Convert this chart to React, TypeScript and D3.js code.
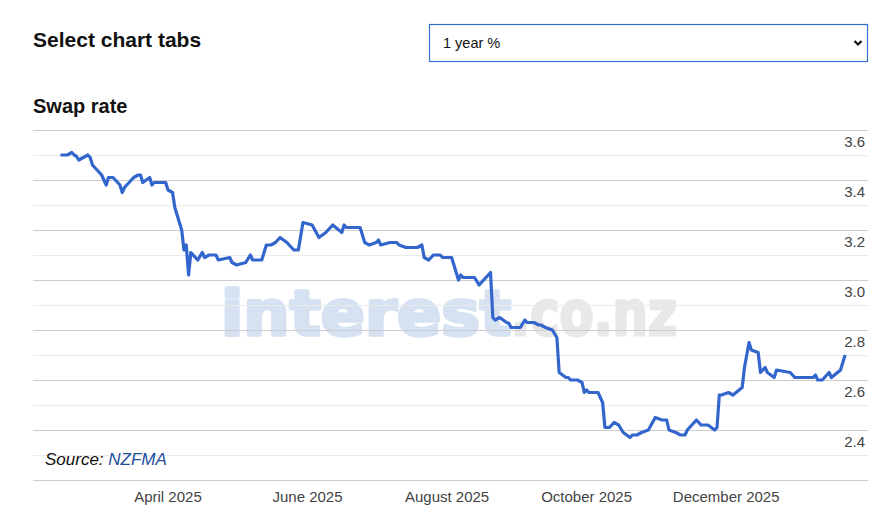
import React, { useEffect, useRef } from 'react';
import * as d3 from 'd3';

// 1 year swap rate
const dates: string[] = [
  '2025-02-13', '2025-02-14', '2025-02-16', '2025-02-18', '2025-02-19', '2025-02-20', '2025-02-21',
  '2025-02-23', '2025-02-25', '2025-02-26', '2025-02-27', '2025-03-01', '2025-03-03', '2025-03-04',
  '2025-03-05', '2025-03-06', '2025-03-08', '2025-03-10', '2025-03-11', '2025-03-12', '2025-03-13',
  '2025-03-15', '2025-03-17', '2025-03-19', '2025-03-20', '2025-03-21', '2025-03-24', '2025-03-25',
  '2025-03-26', '2025-03-31', '2025-04-01', '2025-04-03', '2025-04-04', '2025-04-07', '2025-04-08',
  '2025-04-09', '2025-04-10', '2025-04-11', '2025-04-14', '2025-04-16', '2025-04-17', '2025-04-19',
  '2025-04-22', '2025-04-23', '2025-04-28', '2025-04-29', '2025-05-01', '2025-05-05', '2025-05-07',
  '2025-05-08', '2025-05-12', '2025-05-14', '2025-05-16', '2025-05-18', '2025-05-20', '2025-05-23',
  '2025-05-26', '2025-05-28', '2025-05-30', '2025-06-03', '2025-06-06', '2025-06-09', '2025-06-11',
  '2025-06-12', '2025-06-16', '2025-06-17', '2025-06-18', '2025-06-24', '2025-06-26', '2025-06-28',
  '2025-07-01', '2025-07-02', '2025-07-03', '2025-07-07', '2025-07-10', '2025-07-11', '2025-07-14',
  '2025-07-19', '2025-07-21', '2025-07-22', '2025-07-24', '2025-07-26', '2025-07-29', '2025-07-30',
  '2025-08-03', '2025-08-05', '2025-08-06', '2025-08-07', '2025-08-08', '2025-08-13', '2025-08-15',
  '2025-08-17', '2025-08-20', '2025-08-21', '2025-08-22', '2025-08-24', '2025-08-27', '2025-08-28',
  '2025-08-29', '2025-09-02', '2025-09-04', '2025-09-05', '2025-09-08', '2025-09-10', '2025-09-11',
  '2025-09-13', '2025-09-16', '2025-09-18', '2025-09-19', '2025-09-22', '2025-09-23', '2025-09-24',
  '2025-09-27', '2025-09-29', '2025-09-30', '2025-10-01', '2025-10-02', '2025-10-06', '2025-10-08',
  '2025-10-09', '2025-10-11', '2025-10-13', '2025-10-15', '2025-10-17', '2025-10-20', '2025-10-21',
  '2025-10-23', '2025-10-25', '2025-10-28', '2025-10-31', '2025-11-03', '2025-11-05', '2025-11-06',
  '2025-11-09', '2025-11-11', '2025-11-13', '2025-11-14', '2025-11-18', '2025-11-20', '2025-11-23',
  '2025-11-26', '2025-11-27', '2025-11-28', '2025-11-29', '2025-12-02', '2025-12-04', '2025-12-08',
  '2025-12-09', '2025-12-11', '2025-12-12', '2025-12-15', '2025-12-16', '2025-12-18', '2025-12-19',
  '2025-12-22', '2025-12-23', '2025-12-29', '2025-12-31', '2026-01-08', '2026-01-09', '2026-01-10',
  '2026-01-12', '2026-01-15', '2026-01-16', '2026-01-20', '2026-01-21', '2026-01-22',
];

const rates: number[] = [
  3.60, 3.60, 3.60, 3.61, 3.60, 3.595, 3.58,
  3.59, 3.60, 3.59, 3.56, 3.54, 3.52, 3.50,
  3.48, 3.51, 3.51, 3.49, 3.48, 3.45, 3.47,
  3.49, 3.51, 3.52, 3.52, 3.49, 3.51, 3.48,
  3.49, 3.49, 3.46, 3.45, 3.39, 3.30, 3.22,
  3.24, 3.12, 3.21, 3.18, 3.21, 3.19, 3.20,
  3.20, 3.18, 3.19, 3.17, 3.16, 3.17, 3.20,
  3.18, 3.18, 3.24, 3.24, 3.25, 3.27, 3.25,
  3.22, 3.22, 3.33, 3.32, 3.27, 3.29, 3.31,
  3.32, 3.29, 3.32, 3.31, 3.31, 3.25, 3.24,
  3.25, 3.26, 3.24, 3.25, 3.25, 3.24, 3.23,
  3.23, 3.24, 3.19, 3.18, 3.20, 3.20, 3.19,
  3.19, 3.13, 3.10, 3.12, 3.11, 3.11, 3.08,
  3.10, 3.13, 2.95, 2.94, 2.95, 2.93, 2.927,
  2.91, 2.91, 2.94, 2.93, 2.93, 2.92, 2.92,
  2.91, 2.90, 2.87, 2.73, 2.71, 2.71, 2.70,
  2.70, 2.69, 2.65, 2.66, 2.65, 2.65, 2.61,
  2.51, 2.51, 2.53, 2.52, 2.49, 2.47, 2.48,
  2.48, 2.49, 2.50, 2.55, 2.54, 2.54, 2.50,
  2.49, 2.48, 2.48, 2.50, 2.54, 2.52, 2.52,
  2.50, 2.51, 2.64, 2.64, 2.65, 2.64, 2.67,
  2.75, 2.85, 2.82, 2.81, 2.73, 2.75, 2.73,
  2.71, 2.74, 2.73, 2.71, 2.71, 2.72, 2.70,
  2.70, 2.73, 2.71, 2.74, 2.77, 2.80,
];

const yTickLabels: number[] = [2.4, 2.6, 2.8, 3.0, 3.2, 3.4, 3.6];
const xTickDates: string[] = ['2025-04-01', '2025-06-01', '2025-08-01', '2025-10-01', '2025-12-01'];
const xDomain: string[] = ['2025-02-01', '2026-02-01'];
const yDomain: number[] = [2.3, 3.7];

const W = 878;
const H = 516;
const FONT = 'Arial, "Liberation Sans", sans-serif';

const App: React.FC = () => {
  const svgRef = useRef<SVGSVGElement>(null);

  useEffect(() => {
    document.body.style.margin = '0';
    if (!svgRef.current) return;
    const svg = d3.select(svgRef.current);
    svg.selectAll('*').remove();

    const parse = d3.timeParse('%Y-%m-%d');
    const left = 33;
    const right = 868;
    const top = 130;
    const bottom = 480;

    const x = d3.scaleTime()
      .domain(xDomain.map(d => parse(d) as Date))
      .range([left, right]);
    const y = d3.scaleLinear().domain(yDomain).range([bottom, top]);

    // Header
    svg.append('text')
      .attr('x', 33).attr('y', 47)
      .style('font-family', FONT).style('font-weight', 700).style('font-size', '21px')
      .attr('fill', '#111')
      .text('Select chart tabs');

    svg.append('rect')
      .attr('x', 429.5).attr('y', 24.5).attr('width', 438).attr('height', 37)
      .attr('fill', '#fff').attr('stroke', '#3572cc').attr('stroke-width', 1.2);
    svg.append('text')
      .attr('x', 443).attr('y', 48)
      .style('font-family', FONT).style('font-size', '14.5px')
      .attr('fill', '#111')
      .text('1 year %');
    svg.append('path')
      .attr('d', 'M854.5,41 L858,44.5 L861.5,41')
      .attr('fill', 'none').attr('stroke', '#111').attr('stroke-width', 2.2);

    svg.append('text')
      .attr('x', 33).attr('y', 113)
      .style('font-family', FONT).style('font-weight', 700).style('font-size', '20px')
      .attr('fill', '#111')
      .text('Swap rate');

    // Watermark, fattened with a matching stroke
    const wm = svg.append('text')
      .attr('x', 221).attr('y', 335)
      .style('font-family', '"DejaVu Sans", Verdana, sans-serif').style('font-weight', 700)
      .style('font-size', '62px')
      .attr('stroke-linejoin', 'round');
    wm.append('tspan')
      .attr('fill', '#d6e1f2').attr('stroke', '#d6e1f2').attr('stroke-width', 3.5)
      .attr('textLength', 290).attr('lengthAdjust', 'spacingAndGlyphs')
      .text('interest');
    wm.append('tspan')
      .attr('fill', '#e8e8e8').attr('stroke', '#e8e8e8').attr('stroke-width', 3)
      .attr('textLength', 166).attr('lengthAdjust', 'spacingAndGlyphs')
      .text('.co.nz');

    // Gridlines every 0.1
    const grid = d3.range(0, 15).map(i => yDomain[0] + i * 0.1);
    svg.append('g')
      .selectAll('line')
      .data(grid)
      .enter().append('line')
      .attr('x1', left).attr('x2', right)
      .attr('y1', d => Math.round(y(d)) + 0.5)
      .attr('y2', d => Math.round(y(d)) + 0.5)
      .attr('stroke', (_, i) => (i % 2 === 0 ? '#cccccc' : '#ebebeb'))
      .attr('stroke-width', 1);

    // Y labels sit above their gridline, on the right
    svg.append('g')
      .selectAll('text')
      .data(yTickLabels)
      .enter().append('text')
      .attr('x', 865)
      .attr('y', d => y(d) - 8.5)
      .attr('text-anchor', 'end')
      .style('font-family', FONT).style('font-size', '15px')
      .attr('fill', '#444')
      .text(d => d.toFixed(1));

    // X labels
    const fmt = d3.timeFormat('%B %Y');
    svg.append('g')
      .selectAll('text')
      .data(xTickDates.map(d => parse(d) as Date))
      .enter().append('text')
      .attr('x', d => x(d))
      .attr('y', 502)
      .attr('text-anchor', 'middle')
      .style('font-family', FONT).style('font-size', '15px')
      .attr('fill', '#444')
      .text(d => fmt(d));

    // Series
    const points = dates.map((d, i) => ({ date: parse(d) as Date, value: rates[i] }));
    const line = d3.line<{ date: Date; value: number }>()
      .x(d => x(d.date))
      .y(d => y(d.value));
    svg.append('path')
      .datum(points)
      .attr('d', line)
      .attr('fill', 'none')
      .attr('stroke', '#3366cc')
      .attr('stroke-width', 3.2)
      .attr('stroke-linejoin', 'round');

    // Source note
    const src = svg.append('text')
      .attr('x', 45).attr('y', 465)
      .style('font-family', FONT).style('font-style', 'italic').style('font-size', '17px');
    src.append('tspan').attr('fill', '#111').text('Source: ');
    src.append('tspan').attr('fill', '#1f4f9e').text('NZFMA');
  }, []);

  return <svg ref={svgRef} width={W} height={H} style={{ display: 'block', background: '#fff' }} />;
};

export default App;
